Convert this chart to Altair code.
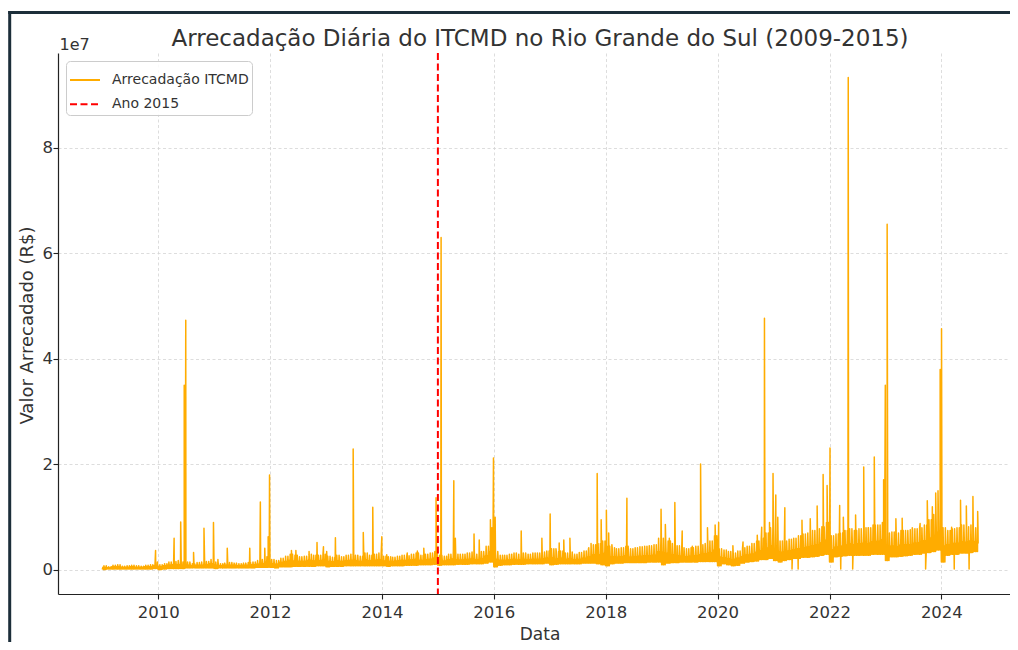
import altair as alt
import pandas as pd

TITLE = "Arrecadação Diária do ITCMD no Rio Grande do Sul (2009-2015)"
S_LINE = "Arrecadação ITCMD"
S_RULE = "Ano 2015"

# Monthly reading of the daily series (millions of R$), Jan 2009 .. Aug 2024
# band_low: bottom of the dense band, band_body: top of the dense band,
# band_high: height reached by the frequent small peaks of that month
band_low = [
    0.1, 0.2, 0.2, 0.2, 0.2, 0.2, 0.2, 0.2, 0.2, 0.2, 0.2, 0.3,   # 2009
    0.1, 0.2, 0.3, 0.3, 0.3, 0.3, 0.4, 0.4, 0.4, 0.4, 0.4, 0.4,   # 2010
    0.3, 0.4, 0.4, 0.4, 0.4, 0.4, 0.4, 0.4, 0.4, 0.5, 0.5, 0.5,   # 2011
    0.5, 0.4, 0.6, 0.6, 0.6, 0.7, 0.7, 0.7, 0.7, 0.7, 0.8, 0.8,   # 2012
    0.6, 0.7, 0.7, 0.7, 0.8, 0.8, 0.8, 0.8, 0.8, 0.8, 0.8, 0.8,   # 2013
    0.8, 0.7, 0.8, 0.8, 0.8, 0.9, 0.9, 0.9, 1.0, 1.0, 1.0, 1.1,   # 2014
    0.9, 1.0, 1.0, 1.0, 1.1, 1.1, 1.1, 1.2, 1.2, 1.2, 1.3, 1.5,   # 2015
    0.6, 0.9, 1.0, 1.0, 1.1, 1.1, 1.1, 1.2, 1.2, 1.2, 1.2, 1.3,   # 2016
    1.0, 1.1, 1.2, 1.2, 1.2, 1.2, 1.2, 1.3, 1.3, 1.3, 1.2, 1.0,   # 2017
    0.8, 1.2, 1.3, 1.3, 1.4, 1.4, 1.4, 1.4, 1.4, 1.5, 1.5, 1.5,   # 2018
    1.0, 1.3, 1.4, 1.4, 1.5, 1.5, 1.5, 1.5, 1.6, 1.6, 1.6, 1.6,   # 2019
    0.8, 1.2, 1.0, 0.8, 0.9, 1.3, 1.5, 1.6, 1.7, 2.0, 2.0, 2.2,   # 2020
    1.8, 1.5, 1.8, 2.0, 2.2, 2.2, 2.4, 2.4, 2.5, 2.6, 2.8, 3.0,   # 2021
    1.5, 2.5, 2.6, 2.7, 2.8, 2.8, 2.8, 2.8, 2.8, 3.0, 3.0, 3.0,   # 2022
    1.8, 2.5, 2.5, 2.6, 2.7, 2.8, 3.0, 3.0, 3.2, 3.3, 3.5, 3.8,   # 2023
    1.5, 2.8, 3.0, 3.0, 3.2, 3.2, 3.3, 3.5,                       # 2024
]
band_body = [
    0.5, 0.4, 0.6, 0.6, 0.5, 0.5, 0.6, 0.5, 0.5, 0.6, 0.6, 0.8,   # 2009
    0.6, 0.8, 0.9, 1.0, 1.0, 0.9, 0.9, 0.8, 0.9, 0.9, 1.0, 1.2,   # 2010
    0.9, 0.8, 0.9, 0.9, 0.9, 0.8, 0.9, 0.9, 1.0, 1.1, 1.2, 1.5,   # 2011
    1.2, 1.1, 1.4, 1.6, 1.8, 1.7, 1.6, 1.6, 1.8, 1.7, 1.7, 1.8,   # 2012
    1.6, 1.5, 1.7, 1.6, 1.7, 1.8, 1.7, 1.6, 1.9, 1.7, 1.8, 1.9,   # 2013
    1.7, 1.6, 1.6, 1.7, 1.8, 1.8, 1.9, 2.0, 1.8, 1.9, 2.0, 2.2,   # 2014
    1.8, 1.7, 1.9, 2.1, 1.9, 1.9, 2.0, 2.1, 1.9, 2.1, 2.6, 3.5,   # 2015
    2.0, 1.8, 1.8, 1.9, 2.0, 1.9, 2.0, 1.9, 2.0, 2.0, 2.1, 2.2,   # 2016
    2.3, 2.1, 2.2, 2.0, 2.1, 1.9, 2.0, 2.2, 2.5, 2.8, 2.9, 3.1,   # 2017
    2.6, 2.5, 2.4, 2.5, 2.7, 2.4, 2.5, 2.6, 2.7, 2.7, 2.8, 3.4,   # 2018
    3.3, 3.1, 2.9, 2.7, 2.6, 2.5, 2.6, 2.7, 2.9, 3.0, 3.2, 3.7,   # 2019
    2.4, 2.3, 2.1, 2.0, 2.2, 2.5, 2.8, 3.0, 3.3, 3.6, 4.1, 4.6,   # 2020
    4.0, 3.3, 3.4, 3.6, 3.8, 4.0, 4.2, 4.3, 4.6, 4.8, 5.1, 5.6,   # 2021
    3.8, 4.3, 4.5, 4.7, 4.9, 4.8, 4.9, 5.0, 5.0, 5.3, 5.4, 5.7,   # 2022
    4.0, 4.5, 4.4, 4.7, 4.7, 4.8, 5.0, 5.1, 5.5, 6.0, 6.6, 7.2,   # 2023
    4.5, 4.8, 5.0, 5.0, 5.3, 5.2, 5.5, 5.3,                       # 2024
]
band_high = [
    0.8, 0.6, 0.9, 1.0, 0.7, 0.8, 0.9, 0.8, 0.7, 0.9, 1.0, 1.5,   # 2009
    1.0, 1.2, 1.5, 1.6, 1.8, 1.5, 1.5, 1.2, 1.4, 1.5, 1.6, 2.0,   # 2010
    1.5, 1.2, 1.3, 1.4, 1.3, 1.2, 1.3, 1.4, 1.5, 1.8, 2.0, 2.5,   # 2011
    2.0, 1.8, 2.2, 2.6, 3.0, 2.8, 2.5, 2.6, 3.0, 2.8, 2.8, 3.0,   # 2012
    2.6, 2.4, 2.8, 2.5, 2.8, 3.0, 2.8, 2.6, 3.2, 2.8, 3.0, 3.2,   # 2013
    2.6, 2.5, 2.4, 2.6, 2.8, 2.7, 3.0, 3.2, 2.8, 3.0, 3.2, 3.5,   # 2014
    2.8, 2.6, 3.0, 3.5, 3.0, 3.0, 3.2, 3.4, 3.0, 3.5, 4.5, 6.0,   # 2015
    3.5, 2.8, 2.8, 3.0, 3.2, 3.0, 3.2, 3.0, 3.2, 3.2, 3.4, 3.6,   # 2016
    4.0, 3.5, 3.6, 3.2, 3.4, 3.0, 3.3, 3.6, 4.2, 4.8, 5.0, 5.5,   # 2017
    4.5, 4.2, 4.0, 4.2, 4.5, 4.0, 4.2, 4.4, 4.5, 4.6, 4.8, 6.0,   # 2018
    6.0, 5.5, 5.0, 4.6, 4.2, 4.0, 4.2, 4.5, 4.8, 5.0, 5.5, 6.5,   # 2019
    4.0, 3.8, 3.5, 3.2, 3.6, 4.2, 4.5, 5.0, 5.5, 6.0, 7.0, 8.0,   # 2020
    7.0, 5.5, 5.5, 5.8, 6.0, 6.5, 6.8, 7.0, 7.5, 7.8, 8.2, 9.0,   # 2021
    6.5, 6.8, 7.0, 7.5, 7.8, 7.5, 7.8, 8.0, 8.0, 8.5, 8.5, 9.0,   # 2022
    7.0, 7.2, 7.0, 7.5, 7.5, 7.6, 7.8, 8.0, 8.5, 9.5, 10.5, 11.5, # 2023
    8.0, 7.5, 7.8, 8.0, 8.5, 8.2, 8.5, 8.0,                       # 2024
]

# Individual peaks and dips (millions of R$)
spike_dates = [
    "2009-12-15", "2010-04-15", "2010-05-28", "2010-06-20", "2010-06-30",
    "2010-08-20", "2010-10-27", "2010-12-28", "2011-01-26", "2011-03-28",
    "2011-08-22", "2011-10-30", "2011-11-28", "2011-12-20", "2011-12-29",
    "2012-05-20", "2012-06-18", "2012-09-12", "2012-11-03", "2012-12-15",
    "2013-01-05", "2013-03-03", "2013-06-27", "2013-09-01", "2013-11-02",
    "2013-12-31", "2014-02-01", "2014-06-15", "2014-08-20", "2014-10-01",
    "2014-12-20", "2015-01-22", "2015-04-15", "2015-04-25", "2015-08-25",
    "2015-09-28", "2015-12-10", "2015-12-20", "2015-12-30", "2016-01-10",
    "2016-06-28", "2016-11-10", "2017-01-03", "2017-02-10", "2017-03-03",
    "2017-04-02", "2017-05-12", "2017-09-10", "2017-09-27", "2017-11-06",
    "2017-12-02", "2018-01-05", "2018-01-20", "2018-02-10", "2018-05-19",
    "2018-12-28", "2019-01-25", "2019-02-20", "2019-03-28", "2019-05-15",
    "2019-07-20", "2019-09-12", "2019-10-27", "2019-12-16", "2020-01-08",
    "2020-04-10", "2020-06-15", "2020-09-16", "2020-10-15", "2020-11-02",
    "2020-12-05", "2020-12-28", "2021-01-15", "2021-01-28", "2021-03-15",
    "2021-05-01", "2021-06-10", "2021-07-05", "2021-08-28", "2021-10-12",
    "2021-11-20", "2021-12-16", "2022-01-04", "2022-03-08", "2022-03-15",
    "2022-04-01", "2022-05-03", "2022-06-01", "2022-06-20", "2022-08-12",
    "2022-09-10", "2022-10-20", "2022-12-20", "2022-12-31", "2023-01-12",
    "2023-03-10", "2023-04-20", "2023-06-25", "2023-08-15", "2023-09-20",
    "2023-10-01", "2023-11-03", "2023-11-25", "2023-12-10", "2023-12-24",
    "2024-01-02", "2024-03-08", "2024-03-25", "2024-05-05", "2024-06-12",
    "2024-06-30", "2024-07-25", "2024-08-25", "2024-08-28",
]
spike_values = [
    3.7, 6.0, 9.1, 35.0, 47.3,
    3.3, 7.9, 9.0, 2.0, 4.1,
    4.1, 12.9, 4.1, 6.3, 18.0,
    3.7, 3.7, 3.5, 5.2, 4.4,
    3.5, 6.1, 22.9, 7.1, 11.9,
    6.3, 2.9, 3.2, 3.6, 4.1,
    13.7, 63.0, 16.9, 6.0, 6.8,
    5.7, 9.5, 8.0, 21.2, 10.0,
    7.4, 6.0, 10.6, 4.0, 5.1,
    5.7, 6.0, 4.0, 5.0, 18.3,
    9.5, 11.3, 7.0, 4.8, 13.6,
    11.5, 8.6, 6.0, 12.8, 7.4,
    4.5, 20.1, 8.0, 8.5, 9.0,
    4.6, 5.3, 6.6, 8.1, 47.7,
    9.0, 18.3, 14.2, 10.0, 11.8,
    0.2, 0.2, 9.4, 9.7, 12.1,
    18.1, 16.0, 23.1, 12.2, 0.2,
    10.0, 93.3, 0.2, 10.4, 19.5,
    8.0, 21.4, 17.1, 35.0, 65.5,
    9.7, 9.8, 8.0, 8.8, 0.2,
    13.1, 12.0, 14.6, 15.0, 38.0,
    45.7, 8.1, 0.2, 13.2, 12.1,
    0.2, 13.9, 11.1, 5.0,
]

rule_dates = ["2015-01-01"]
y_ticks = [0, 2e7, 4e7, 6e7, 8e7]
x_tick_years = [2010, 2012, 2014, 2016, 2018, 2020, 2022, 2024]

# ---- build table: each month drawn as its daily oscillation ----
months = pd.date_range("2009-01-01", periods=len(band_low), freq="MS")
dates, vals = [], []
for m, lo, body, hi in zip(months, band_low, band_body, band_high):
    for day, v in ((0, lo), (4, body), (8, lo), (11, hi), (15, lo),
                   (19, body), (23, lo), (26, hi)):
        dates.append(m + pd.Timedelta(days=day))
        vals.append(v)
dates += [pd.Timestamp(d) for d in spike_dates]
vals += spike_values
df = pd.DataFrame({"date": dates, "valor": [v * 1e6 for v in vals]})
df = df.sort_values("date", kind="stable").reset_index(drop=True)
df["serie"] = S_LINE

rule_df = pd.DataFrame({"date": [pd.Timestamp(d) for d in rule_dates], "serie": [S_RULE]})

FONT = "DejaVu Sans"
TXT = "#333333"
W, H = 952, 541

x_scale = alt.Scale(domain=[alt.DateTime(year=2008, month=3, date=18),
                            alt.DateTime(year=2025, month=3, date=24)])
y_scale = alt.Scale(domain=[-0.455e7, 9.795e7], nice=False, zero=False)

color_scale = alt.Scale(domain=[S_LINE, S_RULE], range=["#FFAC00", "#FF0000"])
dash_scale = alt.Scale(domain=[S_LINE, S_RULE], range=[[1, 0], [7, 3.5]])
leg = alt.Legend(title=None, orient="top-left", offset=8)

x_axis = alt.Axis(
    values=[alt.DateTime(year=y, month=1, date=1) for y in x_tick_years],
    format="%Y", title="Data", titleX=481.5, titleY=45, titleBaseline="alphabetic",
    titleFontSize=17, titleFontWeight="normal", labelFontSize=16.5,
    labelBaseline="alphabetic", labelPadding=18, tickSize=5,
    labelFlush=False, labelOverlap=False, grid=True,
)
y_axis = alt.Axis(
    values=y_ticks, labelExpr="format(datum.value / 1e7, 'd')",
    title="Valor Arrecadado (R$)", titleX=-31, titleY=272, titleBaseline="middle",
    titleFontSize=18, titleFontWeight="normal", labelFontSize=16.5,
    labelPadding=0.5, tickSize=5, grid=True,
)

line = alt.Chart(df).mark_line(strokeWidth=1.5, strokeJoin="round").encode(
    x=alt.X("date:T", scale=x_scale, axis=x_axis),
    y=alt.Y("valor:Q", scale=y_scale, axis=y_axis),
    color=alt.Color("serie:N", scale=color_scale, legend=leg),
    strokeDash=alt.StrokeDash("serie:N", scale=dash_scale, legend=leg),
)

rule = alt.Chart(rule_df).mark_rule(strokeWidth=2).encode(
    x=alt.X("date:T"),
    color=alt.Color("serie:N", scale=color_scale, legend=leg),
    strokeDash=alt.StrokeDash("serie:N", scale=dash_scale, legend=leg),
)

one = pd.DataFrame({"t": [TITLE]})
title_txt = alt.Chart(one).mark_text(
    fontSize=23, font=FONT, color=TXT, align="center", baseline="alphabetic"
).encode(x=alt.value(482), y=alt.value(-7.3), text="t:N")

exp_txt = alt.Chart(pd.DataFrame({"t": ["1e7"]})).mark_text(
    fontSize=16, font=FONT, color=TXT, align="left", baseline="alphabetic"
).encode(x=alt.value(1.5), y=alt.value(-3.5), text="t:N")

frame_df = pd.DataFrame({"t": ["frame"]})
frame_left = alt.Chart(frame_df).mark_rule(strokeWidth=3, color="#1c2e3a").encode(
    x=alt.value(-48.3), y=alt.value(-42), y2=alt.value(700))
frame_top = alt.Chart(frame_df).mark_rule(strokeWidth=3, color="#1c2e3a").encode(
    x=alt.value(-49.8), x2=alt.value(1000), y=alt.value(-40.5))

chart = alt.layer(line, rule, title_txt, exp_txt, frame_left, frame_top).resolve_scale(
    color="shared", strokeDash="shared"
).properties(
    width=W, height=H,
    autosize=alt.AutoSizeParams(type="none"),
    padding={"left": 50, "top": 45, "right": 0, "bottom": 48},
    background="white",
).configure(font=FONT).configure_view(stroke=None).configure_axis(
    domainColor="#222222", domainWidth=1.2, tickColor="#222222", tickWidth=1.1,
    labelColor=TXT, titleColor=TXT, labelFont=FONT, titleFont=FONT,
    gridColor="#d4d4d4", gridDash=[3, 2.5], gridWidth=0.8,
).configure_legend(
    labelFont=FONT, labelFontSize=14, labelColor=TXT,
    symbolType="stroke", symbolSize=900, symbolStrokeWidth=2,
    labelOffset=11, padding=3, rowPadding=1.3,
    fillColor="rgba(255,255,255,0.85)", strokeColor="#cccccc", cornerRadius=4,
)

chart.save("out.html", embed_options={"renderer": "svg", "actions": False})
